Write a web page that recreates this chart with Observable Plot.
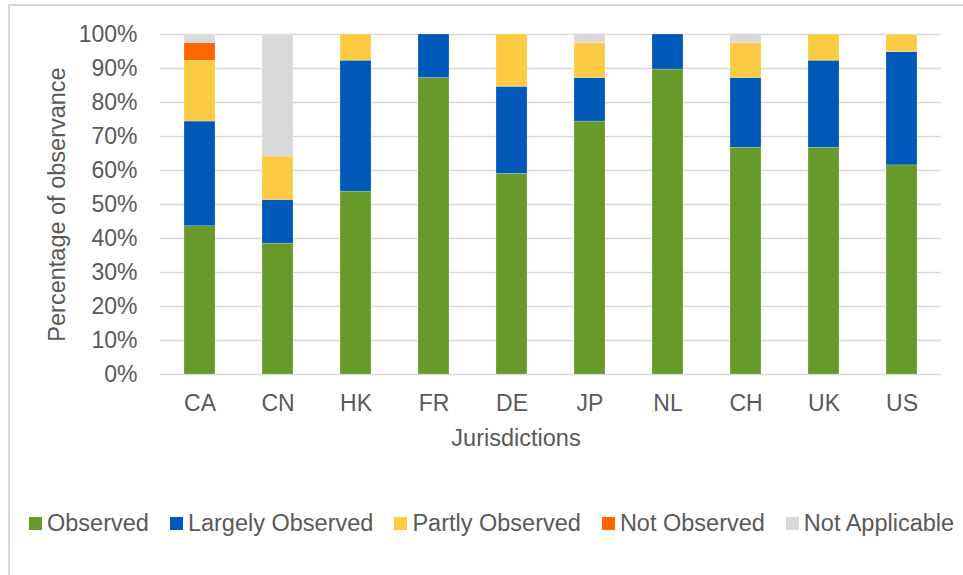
<!DOCTYPE html>
<html>
<head>
<meta charset="utf-8">
<script src="https://cdn.jsdelivr.net/npm/d3@7"></script>
<script src="https://cdn.jsdelivr.net/npm/@observablehq/plot@0.6"></script>
<style>
  html, body { margin: 0; padding: 0; background: #fff; }
  #wrap { position: relative; width: 963px; height: 575px; overflow: hidden; font-family: "Liberation Sans", Arial, sans-serif; }
  #border { position: absolute; left: 8px; top: 4px; width: 1000px; height: 600px; border-left: 2px solid #d9d9d9; border-top: 2px solid #d9d9d9; }
  #chart { position: absolute; left: 0; top: 0; }
  #legend { position: absolute; left: 29px; top: 510px; display: flex; align-items: center; font-size: 23.5px; color: #595959; line-height: 26px; white-space: nowrap; }
  .item { display: flex; align-items: center; margin-right: 21px; }
  .sw { width: 13px; height: 13px; margin-right: 5px; }
</style>
</head>
<body>
<div id="wrap">
  <div id="border"></div>
  <div id="chart"></div>
  <div id="legend"></div>
</div>
<script>
const jurisdictions = ["CA", "CN", "HK", "FR", "DE", "JP", "NL", "CH", "UK", "US"];
const seriesNames = ["Observed", "Largely Observed", "Partly Observed", "Not Observed", "Not Applicable"];
const seriesColors = ["#679a2b", "#0058b9", "#fbcc43", "#ff6600", "#d9d9d9"];
// percentage of observance per jurisdiction
const observed        = [43.6, 38.5, 53.8, 87.2, 59.0, 74.4, 89.7, 66.7, 66.7, 61.5];
const largelyObserved = [30.8, 12.8, 38.5, 12.8, 25.6, 12.8, 10.3, 20.5, 25.6, 33.3];
const partlyObserved  = [17.9, 12.8,  7.7,  0.0, 15.4, 10.3,  0.0, 10.3,  7.7,  5.1];
const notObserved     = [ 5.1,  0.0,  0.0,  0.0,  0.0,  0.0,  0.0,  0.0,  0.0,  0.0];
const notApplicable   = [ 2.6, 35.9,  0.0,  0.0,  0.0,  2.6,  0.0,  2.6,  0.0,  0.0];
const yTicks = [0, 10, 20, 30, 40, 50, 60, 70, 80, 90, 100];
const xTitle = "Jurisdictions";
const yTitle = "Percentage of observance";

const seriesValues = [observed, largelyObserved, partlyObserved, notObserved, notApplicable];
const data = [];
seriesNames.forEach((s, i) => {
  jurisdictions.forEach((j, k) => {
    data.push({jurisdiction: j, status: s, value: seriesValues[i][k]});
  });
});

const textColor = "#595959";
const plot = Plot.plot({
  width: 963,
  height: 470,
  marginLeft: 160,
  marginRight: 22,
  marginTop: 34,
  marginBottom: 96,
  style: {fontFamily: "Liberation Sans, Arial, sans-serif", fontSize: "23px", color: textColor, background: "transparent"},
  x: {domain: jurisdictions, paddingInner: 0.6, paddingOuter: 0.3, label: null},
  y: {domain: [0, 100], label: null},
  color: {domain: seriesNames, range: seriesColors},
  marks: [
    Plot.ruleY(yTicks, {stroke: "#d9d9d9", strokeWidth: 1.5}),
    Plot.barY(data, Plot.stackY({
      x: "jurisdiction", y: "value", fill: "status", order: seriesNames,
      stroke: "#ffffff", strokeWidth: 0.4, strokeOpacity: 0.5
    })),
    Plot.axisY(yTicks, {tickSize: 0, tickPadding: 23, tickFormat: d => d + "%", label: null, fill: textColor, fontSize: 23}),
    Plot.axisX({tickSize: 0, tickPadding: 20, label: null, fill: textColor, fontSize: 23}),
    Plot.text([xTitle], {frameAnchor: "bottom", dy: 64, dx: -35, textAnchor: "middle", lineAnchor: "middle", fill: textColor, fontSize: 23.5}),
    Plot.text([yTitle], {frameAnchor: "left", dx: -103, rotate: -90, textAnchor: "middle", lineAnchor: "middle", fill: textColor, fontSize: 23.5})
  ]
});
document.getElementById("chart").appendChild(plot);

const legend = document.getElementById("legend");
seriesNames.forEach((s, i) => {
  const item = document.createElement("div");
  item.className = "item";
  const sw = document.createElement("span");
  sw.className = "sw";
  sw.style.background = seriesColors[i];
  const t = document.createElement("span");
  t.textContent = s;
  item.appendChild(sw);
  item.appendChild(t);
  legend.appendChild(item);
});
</script>
</body>
</html>
